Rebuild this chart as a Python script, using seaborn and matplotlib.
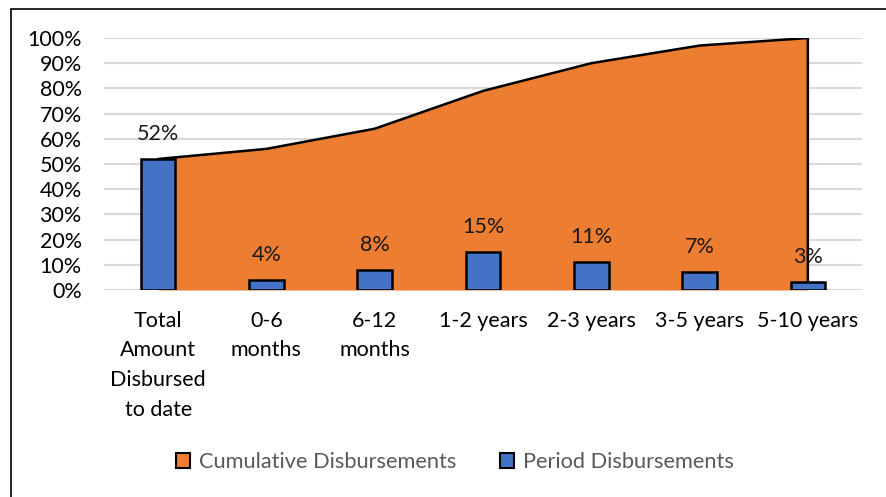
import matplotlib.pyplot as plt
import matplotlib.patches as mpatches
from matplotlib.ticker import PercentFormatter
import pandas as pd
import seaborn as sns

# Chart data
categories = ['Total\nAmount\nDisbursed\nto date', '0-6\nmonths', '6-12\nmonths',
              '1-2 years', '2-3 years', '3-5 years', '5-10 years']
period = [52, 4, 8, 15, 11, 7, 3]
cumulative = [52, 56, 64, 79, 90, 97, 100]

blue = '#4472C4'
orange = '#ED7D31'

sns.set_style('white')
plt.rcParams['font.family'] = ['Lato', 'DejaVu Sans']

df = pd.DataFrame({'Category': categories, 'Period': period, 'Cumulative': cumulative})

fig = plt.figure(figsize=(8.86, 4.97), dpi=100)
ax = fig.add_axes([104 / 886, 1 - 290 / 497, (862 - 104) / 886, (290 - 38) / 497])

# Cumulative area
xs = list(range(len(categories)))
ax.fill_between(xs, cumulative, 0, color=orange, zorder=1, linewidth=0)
ax.plot(xs + [xs[-1]], cumulative + [0], color='black', lw=1.8, zorder=2)

# Period bars
sns.barplot(data=df, x='Category', y='Period', color=blue, width=0.32,
            edgecolor='black', linewidth=1.8, ax=ax, zorder=3, saturation=1)

for i, v in enumerate(period):
    ax.annotate(f'{v}%', (i, v), xytext=(0, 18), textcoords='offset points',
                ha='center', va='center', fontsize=15.5, color='#1a1a1a', zorder=4)

ax.set_xlim(-0.5, len(categories) - 0.5)
ax.set_ylim(0, 100)
ax.set_yticks(range(0, 101, 10))
ax.yaxis.set_major_formatter(PercentFormatter(decimals=0))
ax.grid(axis='y', color='#d9d9d9', lw=1.5, zorder=0)
ax.set_axisbelow(True)
for s in ax.spines.values():
    s.set_visible(False)
ax.set_xlabel('')
ax.set_ylabel('')
ax.tick_params(axis='both', length=0, labelsize=15.5, colors='black')
ax.tick_params(axis='y', pad=16)
ax.tick_params(axis='x', pad=15)
for lbl in ax.get_xticklabels():
    lbl.set_linespacing(1.6)
    lbl.set_va('top')

# Legend
handles = [mpatches.Patch(facecolor=orange, edgecolor='black', lw=1.5, label='Cumulative Disbursements'),
           mpatches.Patch(facecolor=blue, edgecolor='black', lw=1.5, label='Period Disbursements')]
fig.legend(handles=handles, loc='center', bbox_to_anchor=(455 / 886, 1 - 462 / 497), ncol=2,
           frameon=False, fontsize=15.7, labelcolor='#595959', handlelength=0.65,
           handleheight=0.65, handletextpad=0.4, columnspacing=2.0)

# Outer border
fig.patches.append(mpatches.Rectangle((11 / 886, -0.1), 1.1, 1 - 9 / 497 + 0.1,
                                      transform=fig.transFigure, fill=False,
                                      edgecolor='black', lw=1.2))

fig.savefig('out.png', dpi=100)
